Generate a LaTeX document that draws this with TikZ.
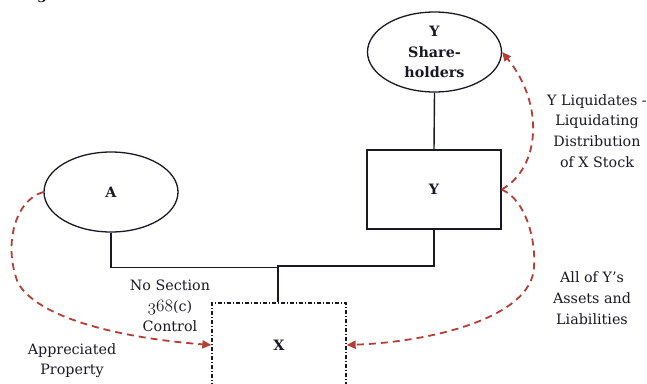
\documentclass[tikz,border=0pt]{standalone}
\usepackage{fontspec}
\setmainfont{DejaVu Serif}
\usetikzlibrary{shapes.geometric,arrows.meta}
\definecolor{flowred}{RGB}{181,62,52}
\definecolor{inkdark}{RGB}{25,25,35}
% old-style figures taken from the Computer Modern math italic font
\newcommand{\osnum}[1]{{\fontsize{17.5}{20.7}\usefont{OML}{cmm}{m}{it}#1}}
\begin{document}
\begin{tikzpicture}[x=1pt,y=-1pt,
  every node/.style={text=inkdark},
  lbl/.style={font=\fontsize{14.3}{20.7}\selectfont, align=center, inner sep=0pt},
  entity/.style={draw=inkdark, line width=1.3pt, font=\fontsize{14.3}{20.2}\selectfont\bfseries, align=center, inner sep=0pt},
  oval/.style={entity, ellipse, minimum width=134pt, minimum height=80pt},
  corp/.style={entity, rectangle, minimum width=134pt, minimum height=79pt},
  link/.style={draw=inkdark, line width=1.4pt},
  flow/.style={draw=flowred, line width=1.8pt, dash pattern=on 7pt off 5pt,
               -{Triangle[length=9pt,width=8pt]}}
]
\useasboundingbox (0,0) rectangle (647,383);

% title fragment at the top edge
\node[font=\fontsize{14.3}{20.7}\selectfont\bfseries, anchor=base, inner sep=0pt] (ttl) at (42,-0.5) {g};

% parties
\node[oval] (ysh) at (434.5,52) {Y\\Share-\\holders};
\node[corp] (y) at (434,189.5) {Y};
\node[oval] (a) at (111,192) {A};
\node[corp, dash pattern=on 4pt off 2pt on 1pt off 2pt, minimum height=84pt] (x) at (279,345) {X};

% ownership lines
\coordinate (jy) at (434,266);
\coordinate (jx) at (278,266);
\coordinate (ja) at (111,267.5);
\coordinate (jm) at (278,267.5);
\draw[link] (ysh.south) -- (y.north);
\draw[link] (y.south) -- (jy) -- (jx) -- (x.north -| jx);
\draw[link] (a.south) -- (ja) -- (jm);

% transfers
\draw[flow] (a.west) .. controls (15,200) and (3,245) .. (18,283)
            .. controls (38,318) and (120,338) .. (x.west);
\draw[flow] (y.east) .. controls (526,200) and (536,240) .. (534,267)
            .. controls (532,318) and (430,342) .. (x.east);
\draw[flow] (y.east) .. controls (540,168) and (545,105) .. (ysh.east);

% labels
\node[lbl] (lq) at (597,131) {Y Liquidates -\\Liquidating\\Distribution\\of X Stock};
\node[lbl] (la) at (592,298) {All of Y's\\Assets and\\Liabilities};
\node[lbl] (ln) at (170,306) {No Section\\\osnum{368}(c)\\Control};
\node[lbl] (lp) at (72,360.5) {Appreciated\\Property};
\end{tikzpicture}
\end{document}
